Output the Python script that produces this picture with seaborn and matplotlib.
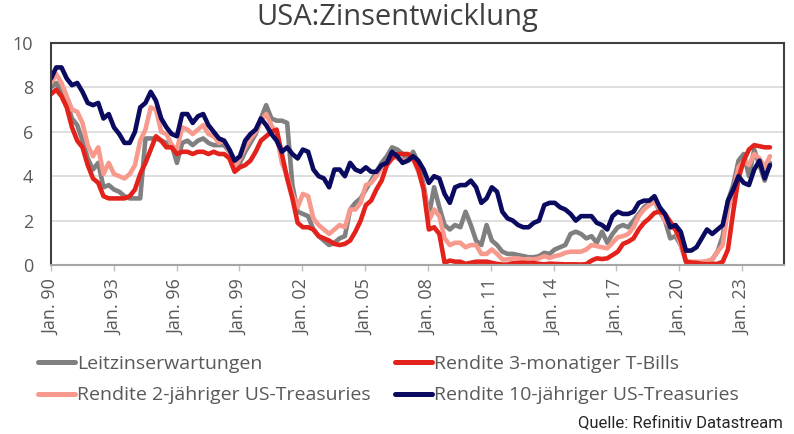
import pandas as pd
import matplotlib.pyplot as plt
import matplotlib.dates as mdates
from matplotlib.lines import Line2D
import seaborn as sns

sns.set_theme(style='white')
plt.rcParams['font.family'] = ['Open Sans', 'DejaVu Sans']

# quarterly readings, Jan 1990 .. spring 2024
leitzins = [
  8.0, 8.2, 7.8, 7.3,  6.6, 6.3, 5.6, 4.8,  4.3, 4.6, 3.5, 3.6,  3.4, 3.3, 3.1, 3.0,
  3.0, 3.0, 5.7, 5.7,  5.7, 5.6, 5.5, 5.4,  4.6, 5.5, 5.6, 5.4,  5.6, 5.7, 5.5, 5.4,
  5.4, 5.4, 5.1, 4.4,  4.6, 5.1, 5.5, 5.9,  6.6, 7.2, 6.6, 6.5,  6.5, 6.4, 3.6, 2.4,
  2.3, 2.2, 1.6, 1.3,  1.1, 0.9, 1.0, 1.2,  1.3, 2.5, 2.8, 3.0,  3.4, 3.8, 4.2, 4.6,
  4.9, 5.3, 5.2, 5.0,  4.7, 5.1, 4.6, 3.6,  2.2, 3.5, 2.6, 1.8,  1.6, 1.8, 1.7, 2.4,
  1.8, 1.1, 0.9, 1.8,  1.1, 0.9, 0.6, 0.5,  0.5, 0.45, 0.4, 0.35,  0.35, 0.4, 0.55, 0.5,
  0.7, 0.8, 0.9, 1.4,  1.5, 1.4, 1.2, 1.3,  1.0, 1.5, 1.0, 1.4,  1.7, 1.8, 1.7, 2.0,
  2.3, 2.6, 2.8, 2.9,  2.4, 2.0, 1.2, 1.3,  0.9, 0.15, 0.12, 0.12,  0.12, 0.15, 0.25, 0.6,
  1.3, 2.9, 3.6, 4.7,  5.0, 4.0, 5.2, 4.5,  3.8, 4.6,
]
tbill_3m = [
  7.7, 7.9, 7.6, 7.1,  6.2, 5.6, 5.3, 4.5,  3.9, 3.7, 3.1, 3.0,  3.0, 3.0, 3.0, 3.1,
  3.4, 4.1, 4.6, 5.2,  5.8, 5.6, 5.3, 5.3,  5.0, 5.1, 5.1, 5.0,  5.1, 5.1, 5.0, 5.1,
  5.0, 5.0, 4.8, 4.2,  4.4, 4.5, 4.7, 5.1,  5.6, 5.8, 6.0, 6.1,  5.0, 3.9, 3.0, 1.9,
  1.7, 1.7, 1.6, 1.3,  1.2, 1.1, 0.95, 0.9,  0.95, 1.1, 1.5, 2.0,  2.7, 2.9, 3.4, 3.8,
  4.5, 4.8, 5.0, 5.0,  5.0, 4.8, 4.3, 3.4,  1.6, 1.7, 1.4, 0.1,  0.2, 0.15, 0.15, 0.05,
  0.1, 0.15, 0.15, 0.15,  0.1, 0.05, 0.02, 0.02,  0.08, 0.09, 0.1, 0.08,  0.09, 0.05, 0.03, 0.06,
  0.05, 0.04, 0.03, 0.03,  0.03, 0.02, 0.04, 0.2,  0.3, 0.27, 0.3, 0.45,  0.6, 0.95, 1.05, 1.2,
  1.6, 1.9, 2.1, 2.35,  2.4, 2.3, 1.95, 1.6,  1.1, 0.14, 0.11, 0.09,  0.05, 0.03, 0.05, 0.05,
  0.15, 0.7, 2.4, 3.9,  4.7, 5.2, 5.4, 5.35,  5.3, 5.3,
]
treasury_2y = [
  8.2, 8.6, 8.2, 7.6,  7.0, 6.9, 6.4, 5.4,  4.9, 5.3, 4.1, 4.6,  4.1, 4.0, 3.9, 4.1,
  4.5, 5.6, 6.1, 7.1,  7.0, 6.0, 5.9, 5.4,  5.2, 6.2, 6.1, 5.9,  6.1, 6.3, 5.9, 5.8,
  5.5, 5.6, 5.1, 4.4,  4.8, 5.3, 5.7, 6.0,  6.5, 6.8, 6.3, 5.8,  4.6, 4.0, 3.2, 2.6,
  3.2, 3.1, 2.1, 1.8,  1.6, 1.4, 1.6, 1.8,  1.7, 2.5, 2.5, 2.8,  3.6, 3.7, 4.0, 4.4,
  4.6, 5.0, 4.8, 4.7,  4.7, 4.8, 4.2, 3.5,  2.0, 2.5, 2.2, 1.2,  0.9, 1.0, 1.0, 0.8,
  0.9, 0.9, 0.5, 0.5,  0.7, 0.5, 0.25, 0.25,  0.3, 0.3, 0.25, 0.27,  0.25, 0.3, 0.4, 0.32,
  0.4, 0.45, 0.55, 0.6,  0.6, 0.6, 0.7, 0.9,  0.85, 0.8, 0.75, 1.0,  1.25, 1.3, 1.4, 1.7,
  2.2, 2.5, 2.7, 2.85,  2.5, 2.0, 1.7, 1.6,  0.9, 0.18, 0.14, 0.15,  0.14, 0.18, 0.25, 0.6,
  0.9, 2.5, 3.3, 4.4,  4.7, 4.5, 5.0, 4.8,  4.4, 4.9,
]
treasury_10y = [
  8.4, 8.9, 8.9, 8.4,  8.1, 8.2, 7.8, 7.3,  7.2, 7.3, 6.6, 6.8,  6.2, 5.9, 5.5, 5.5,
  6.0, 7.1, 7.3, 7.8,  7.4, 6.6, 6.2, 5.9,  5.8, 6.8, 6.8, 6.4,  6.7, 6.8, 6.3, 6.0,
  5.7, 5.6, 5.2, 4.7,  4.9, 5.6, 5.9, 6.1,  6.6, 6.3, 5.9, 5.6,  5.1, 5.3, 5.0, 4.8,
  5.2, 5.1, 4.3, 4.0,  3.9, 3.5, 4.3, 4.3,  4.0, 4.6, 4.3, 4.2,  4.4, 4.2, 4.2, 4.5,
  4.6, 5.1, 4.9, 4.6,  4.7, 4.9, 4.7, 4.3,  3.7, 4.0, 3.9, 3.2,  2.8, 3.5, 3.6, 3.6,
  3.8, 3.5, 2.8, 3.0,  3.5, 3.3, 2.4, 2.1,  2.0, 1.8, 1.7, 1.7,  1.9, 2.0, 2.7, 2.8,
  2.8, 2.6, 2.5, 2.3,  2.0, 2.2, 2.2, 2.2,  1.9, 1.8, 1.6, 2.2,  2.4, 2.3, 2.3, 2.4,
  2.8, 2.9, 2.9, 3.1,  2.6, 2.3, 1.7, 1.8,  1.5, 0.65, 0.65, 0.8,  1.2, 1.6, 1.4, 1.6,
  1.8, 2.9, 3.4, 4.0,  3.7, 3.6, 4.3, 4.7,  3.9, 4.5,
]

labels = ['Leitzinserwartungen', 'Rendite 3-monatiger T-Bills',
          'Rendite 2-jähriger US-Treasuries', 'Rendite 10-jähriger US-Treasuries']
colors = ['#808080', '#e3221c', '#f79a8d', '#0a0a60']
tick_years = list(range(1990, 2024, 3))

dates = pd.date_range('1990-01-01', '2024-05-01', periods=len(leitzins))
wide = pd.DataFrame({labels[0]: leitzins, labels[1]: tbill_3m,
                     labels[2]: treasury_2y, labels[3]: treasury_10y}, index=dates)
wide.index.name = 'Datum'
df = wide.reset_index().melt(id_vars='Datum', var_name='Reihe', value_name='Wert')

fig = plt.figure(figsize=(7.94, 4.34), dpi=100)
ax = fig.add_axes([51/794, 1 - 265/434, 733/794, 222/434])

# draw order: gray, salmon, red, navy on top
draw_order = [labels[0], labels[2], labels[1], labels[3]]
pal = dict(zip(labels, colors))
sns.lineplot(data=df, x='Datum', y='Wert', hue='Reihe', hue_order=draw_order,
             palette=pal, linewidth=3.3, estimator=None, legend=False, ax=ax)

ax.set_xlim(pd.Timestamp('1990-01-01'), pd.Timestamp('2025-01-01'))
ax.set_ylim(0, 10)
ax.set_yticks([0, 2, 4, 6, 8, 10])
ax.yaxis.grid(True, color='#d9d9d9', linewidth=1.2)
ax.set_axisbelow(True)
ax.set_xlabel('')
ax.set_ylabel('')

ticks = [pd.Timestamp(f'{y}-01-01') for y in tick_years]
ax.set_xticks(ticks)
ax.set_xticklabels([f'Jan. {str(y)[2:]}' for y in tick_years], rotation=90)
ax.tick_params(axis='x', length=4, width=1, color='#bfbfbf', pad=6,
               labelsize=13, labelcolor='#595959', bottom=True)
ax.tick_params(axis='y', length=0, pad=13, labelsize=13, labelcolor='#595959')

for side in ['left', 'top', 'right']:
  ax.spines[side].set_color('#404040')
  ax.spines[side].set_linewidth(1.5)
ax.spines['bottom'].set_color('#a6a6a6')
ax.spines['bottom'].set_linewidth(1.5)

fig.text(0.5, 1 - 17/434, 'USA:Zinsentwicklung', ha='center', va='center',
         fontsize=21, color='#404040')

# legend in two columns, row-wise reading order
leg_order = [labels[0], labels[2], labels[1], labels[3]]
handles = [Line2D([0], [0], color=pal[l], linewidth=3.6) for l in leg_order]
fig.legend(handles, leg_order, loc='upper left', bbox_to_anchor=(28/794, 1 - 345/434),
           ncol=2, frameon=False, fontsize=14, handlelength=1.9, handletextpad=0.12,
           columnspacing=1.25, labelspacing=0.7, borderpad=0, labelcolor='#595959')

fig.text(783/794, 1 - 423/434, 'Quelle: Refinitiv Datastream', ha='right', va='center',
         fontsize=12, color='#262626', family=['Liberation Sans Narrow', 'Roboto'])

fig.savefig('out.png', dpi=100)
